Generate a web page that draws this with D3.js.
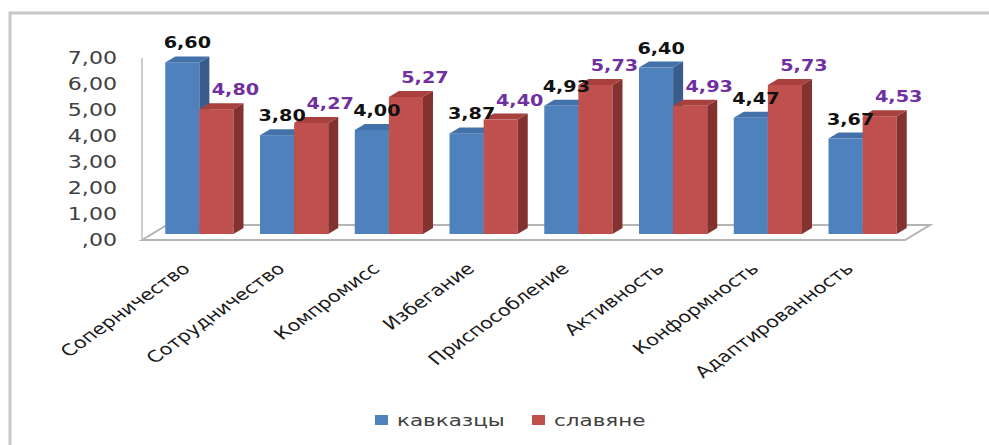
<!DOCTYPE html>
<html>
<head>
<meta charset="utf-8">
<script src="https://cdn.jsdelivr.net/npm/d3@7"></script>
<style>
  body { margin: 0; background: #fff; }
  svg { display: block; }
</style>
</head>
<body>
<div id="chart"></div>
<script>
var categories = ["Соперничество", "Сотрудничество", "Компромисс", "Избегание",
                  "Приспособление", "Активность", "Конформность", "Адаптированность"];
var kavkaz = [6.60, 3.80, 4.00, 3.87, 4.93, 6.40, 4.47, 3.67];
var slavs = [4.80, 4.27, 5.27, 4.40, 5.73, 4.93, 5.73, 4.53];
var seriesNames = ["кавказцы", "славяне"];
var yTicks = [0, 1, 2, 3, 4, 5, 6, 7];

var width = 989, height = 445;
var SX = 1.3; // the source picture is stretched sideways
var depth = {dx: 10, dy: -6};   // bar depth
var floorD = {dx: 25, dy: -15}; // floor depth

var colors = [
    {front: "#4F81BD", side: "#385D8A", top: "#4372AA", label: "#111111"},
    {front: "#C0504D", side: "#843230", top: "#A8413E", label: "#7030A0"}
];

var svg = d3.select("#chart").append("svg")
    .attr("width", width)
    .attr("height", height);

// outer chart border (right and bottom lie outside the picture)
svg.append("rect")
    .attr("x", 10).attr("y", 13)
    .attr("width", 1100).attr("height", 600)
    .attr("fill", "none")
    .attr("stroke", "#c8c8c8")
    .attr("stroke-width", 3);

var y = d3.scaleLinear().domain([0, 7]).range([240, 58]);
var x0 = d3.scaleBand().domain(categories).range([152, 910])
    .paddingInner(0.28).paddingOuter(0.14);
var x1 = d3.scaleBand().domain(seriesNames).range([0, x0.bandwidth()]);

var fmt = function (d) {
    return d === 0 ? ",00" : d.toFixed(2).replace(".", ",");
};

// floor
var fx0 = 142, fx1 = 905, fy = y(0);
svg.append("polygon")
    .attr("points", [[fx0, fy], [fx0 + floorD.dx, fy + floorD.dy],
                     [fx1 + floorD.dx, fy + floorD.dy], [fx1, fy]].join(" "))
    .attr("fill", "#fff")
    .attr("stroke", "#b4b4b4")
    .attr("stroke-width", 2);

// vertical axis line
svg.append("line")
    .attr("x1", fx0).attr("x2", fx0)
    .attr("y1", y(7)).attr("y2", fy)
    .attr("stroke", "#bdbdbd")
    .attr("stroke-width", 1.5);

// y tick labels
svg.append("g").selectAll("text")
    .data(yTicks)
    .enter().append("text")
    .attr("transform", function (d) { return "translate(117," + y(d) + ") scale(" + SX + ",1)"; })
    .attr("dy", "0.36em")
    .attr("text-anchor", "end")
    .attr("font-family", "DejaVu Sans, Verdana, sans-serif")
    .attr("font-size", "17px")
    .attr("fill", "#404040")
    .text(fmt);

// bars
var barShift = -6; // bars sit half way into the floor
var rows = categories.map(function (c, i) {
    return [{cat: c, s: 0, v: kavkaz[i]}, {cat: c, s: 1, v: slavs[i]}];
});

var groups = svg.append("g").selectAll("g")
    .data(rows)
    .enter().append("g")
    .attr("transform", function (d) { return "translate(" + x0(d[0].cat) + "," + barShift + ")"; });

var w = x1.bandwidth();
var base = y(0);

var bars = groups.selectAll("g.bar")
    .data(function (d) { return d; })
    .enter().append("g")
    .attr("class", "bar");

bars.append("rect")
    .attr("x", function (d) { return x1(seriesNames[d.s]); })
    .attr("y", function (d) { return y(d.v); })
    .attr("width", w)
    .attr("height", function (d) { return base - y(d.v); })
    .attr("fill", function (d) { return colors[d.s].front; });

bars.append("polygon")
    .attr("points", function (d) {
        var xr = x1(seriesNames[d.s]) + w, t = y(d.v);
        return [[xr, t], [xr + depth.dx, t + depth.dy], [xr + depth.dx, base + depth.dy], [xr, base]].join(" ");
    })
    .attr("fill", function (d) { return colors[d.s].side; });

bars.append("polygon")
    .attr("points", function (d) {
        var xl = x1(seriesNames[d.s]), t = y(d.v);
        return [[xl, t], [xl + depth.dx, t + depth.dy], [xl + w + depth.dx, t + depth.dy], [xl + w, t]].join(" ");
    })
    .attr("fill", function (d) { return colors[d.s].top; });

// value labels
var labelShift = [0, 14];
groups.selectAll("text.val")
    .data(function (d) { return d; })
    .enter().append("text")
    .attr("class", "val")
    .attr("transform", function (d) {
        var cx = x1(seriesNames[d.s]) + w / 2 + depth.dx / 2 + labelShift[d.s];
        return "translate(" + cx + "," + (y(d.v) - 14) + ") scale(1.2,1)";
    })
    .attr("text-anchor", "middle")
    .attr("font-family", "DejaVu Sans, Verdana, sans-serif")
    .attr("font-weight", "bold")
    .attr("font-size", "16px")
    .attr("fill", function (d) { return colors[d.s].label; })
    .text(function (d) { return d.v.toFixed(2).replace(".", ","); });

// category labels
svg.append("g").selectAll("text")
    .data(categories)
    .enter().append("text")
    .attr("transform", function (d) {
        var cx = x0(d) + x0.bandwidth() / 2 - 8;
        return "translate(" + cx + ",270) scale(" + SX + ",1) rotate(-43)";
    })
    .attr("text-anchor", "end")
    .attr("font-family", "DejaVu Sans, Verdana, sans-serif")
    .attr("font-size", "16px")
    .attr("fill", "#1a1a1a")
    .text(function (d) { return d; });

// legend
var legend = svg.append("g").selectAll("g")
    .data(seriesNames)
    .enter().append("g")
    .attr("transform", function (d, i) { return "translate(" + (375 + i * 157) + ",415)"; });

legend.append("rect")
    .attr("width", 13).attr("height", 10)
    .attr("fill", function (d, i) { return colors[i].front; });

legend.append("text")
    .attr("transform", "translate(22,11) scale(" + SX + ",1)")
    .attr("font-family", "DejaVu Sans, Verdana, sans-serif")
    .attr("font-size", "16.5px")
    .attr("fill", "#404040")
    .text(function (d) { return d; });
</script>
</body>
</html>
